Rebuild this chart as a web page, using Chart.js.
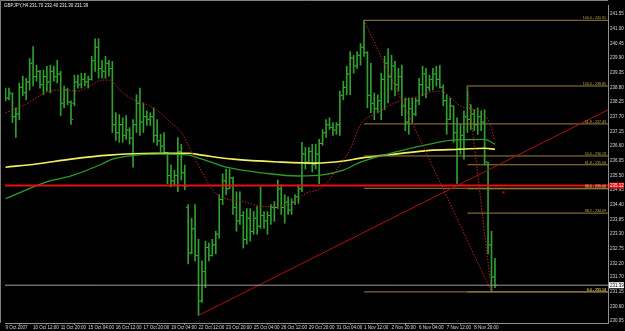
<!DOCTYPE html>
<html>
<head>
<meta charset="utf-8">
<script src="https://cdn.jsdelivr.net/npm/chart.js@4.4.0/dist/chart.umd.min.js"></script>
<style>
  html, body { margin: 0; padding: 0; background: #000; }
  canvas { display: block; }
</style>
</head>
<body>
<canvas id="chart" width="625" height="331"></canvas>
<script>
// GBPJPY H4
const symbolTitle = 'GBPJPY,H4 231.70 232.40 231.30 231.39';

const timeTickIdx = [0, 8, 16, 24, 32, 40, 48, 56, 64, 72, 80, 88, 96, 104, 112, 120, 128, 136];
const timeLabels = ['9 Oct 2007', '10 Oct 12:00', '11 Oct 20:00', '15 Oct 04:00', '16 Oct 12:00', '17 Oct 20:00',
  '19 Oct 04:00', '22 Oct 12:00', '23 Oct 20:00', '25 Oct 04:00', '26 Oct 12:00', '29 Oct 20:00',
  '31 Oct 04:00', '1 Nov 12:00', '2 Nov 20:00', '6 Nov 04:00', '7 Nov 12:00', '8 Nov 20:00'];

const priceTicks = [241.55, 241.00, 240.45, 239.90, 239.35, 238.80, 238.25, 237.70, 237.15, 236.60, 236.05,
  235.50, 234.95, 234.40, 233.85, 233.30, 232.75, 232.20, 231.70, 231.15, 230.60, 230.05];

const highs = [
  238.77, 238.77, 238.59, 238.03, 238.96, 239.22, 239.14, 239.88, 240.33, 239.63,
  239.44, 239.44, 239.59, 239.63, 239.59, 239.81, 239.40, 238.85, 238.77, 238.29,
  239.26, 239.26, 239.33, 239.33, 239.22, 239.96, 240.62, 240.62, 239.81, 239.96,
  239.81, 239.77, 237.85, 237.78, 237.66, 237.74, 237.29, 237.59, 238.52, 238.77,
  238.22, 237.92, 237.85, 238.03, 237.59, 237.04, 237.11, 236.37, 235.89, 235.70,
  236.92, 236.67, 235.89, 234.41, 233.89, 234.41, 233.11, 232.30, 233.04, 232.97,
  233.11, 233.41, 234.78, 235.56, 235.74, 235.74, 235.44, 234.89, 234.89, 234.15,
  234.26, 234.26, 234.15, 234.33, 235.07, 234.15, 234.15, 234.41, 234.52, 235.33,
  235.15, 234.78, 234.70, 234.63, 234.78, 235.15, 236.74, 236.55, 236.55, 236.67,
  236.67, 236.85, 237.22, 237.59, 237.66, 237.48, 237.48, 238.66, 239.03, 239.59,
  240.14, 240.00, 240.14, 240.44, 241.31, 240.14, 239.70, 238.59, 238.52, 239.33,
  239.96, 240.25, 240.00, 239.77, 239.51, 239.63, 238.40, 238.40, 238.40, 238.40,
  239.14, 239.59, 239.51, 239.26, 239.51, 239.59, 239.63, 238.89, 238.52, 238.40,
  238.11, 237.66, 237.41, 237.92, 238.85, 238.15, 237.96, 238.03, 237.92, 237.96,
  236.00, 233.41, 232.40];

const lows = [
  238.29, 238.33, 237.48, 236.92, 237.59, 238.48, 238.33, 238.70, 238.85, 239.03,
  238.77, 238.52, 238.66, 238.59, 239.03, 238.96, 237.74, 238.03, 238.15, 237.41,
  238.11, 238.77, 238.77, 238.85, 238.77, 239.07, 239.40, 239.14, 239.14, 239.14,
  239.22, 237.11, 236.81, 236.74, 236.74, 236.85, 236.67, 235.81, 237.11, 237.00,
  237.11, 237.37, 237.37, 236.74, 236.63, 236.37, 236.30, 235.19, 235.07, 235.15,
  234.89, 235.33, 234.96, 232.19, 232.56, 232.30, 230.26, 230.75, 231.30, 232.30,
  232.48, 232.56, 233.15, 234.41, 234.78, 235.00, 234.04, 233.41, 233.67, 232.78,
  232.93, 233.04, 233.30, 233.30, 233.52, 233.52, 233.30, 233.67, 233.78, 234.26,
  234.04, 233.71, 234.04, 234.04, 234.41, 234.45, 234.89, 235.74, 235.93, 235.63,
  235.74, 235.19, 236.63, 236.92, 237.22, 237.00, 237.04, 237.00, 238.33, 238.52,
  238.52, 239.33, 239.51, 239.63, 239.96, 238.03, 237.85, 237.59, 237.85, 237.59,
  237.96, 238.22, 238.70, 238.48, 238.66, 237.74, 237.18, 237.04, 237.48, 237.74,
  238.15, 238.48, 238.40, 238.66, 238.70, 238.85, 238.77, 238.11, 237.04, 237.59,
  236.74, 235.19, 236.30, 236.11, 237.11, 237.22, 237.18, 237.04, 237.18, 235.89,
  232.56, 231.14, 231.30];

const opens = [
  238.70, 238.40, 238.55, 237.70, 237.80, 238.80, 238.60, 239.00, 239.70, 239.20,
  239.40, 238.90, 239.20, 239.00, 239.40, 239.20, 239.30, 238.20, 238.70, 238.25,
  238.20, 239.00, 238.90, 239.10, 239.00, 239.10, 239.80, 240.30, 239.50, 239.40,
  239.70, 239.50, 237.40, 237.10, 237.40, 237.00, 237.20, 236.90, 237.40, 238.20,
  237.50, 237.70, 237.60, 237.70, 237.00, 236.80, 236.60, 236.35, 235.50, 235.30,
  235.50, 236.40, 235.60, 234.30, 232.60, 233.50, 232.50, 230.80, 231.90, 232.80,
  232.50, 232.90, 233.30, 234.60, 235.30, 235.00, 235.40, 234.30, 233.80, 234.00,
  233.10, 233.90, 233.40, 233.90, 233.60, 234.00, 233.80, 234.00, 234.30, 234.30,
  235.00, 234.30, 234.50, 234.20, 234.50, 234.70, 235.00, 236.30, 236.00, 236.40,
  235.90, 236.30, 236.70, 237.10, 237.40, 237.30, 237.20, 237.40, 238.50, 238.80,
  239.30, 239.90, 239.60, 240.00, 240.30, 240.10, 238.50, 238.20, 238.00, 238.30,
  239.10, 239.70, 239.20, 239.60, 238.90, 239.20, 238.10, 237.50, 238.00, 237.80,
  238.30, 238.90, 239.30, 238.80, 239.10, 239.30, 239.10, 238.80, 238.30, 237.60,
  238.10, 237.10, 236.50, 237.00, 237.70, 237.60, 237.80, 237.40, 237.70, 237.50,
  236.00, 232.90, 231.70];

const closes = [
  238.40, 238.60, 237.70, 237.80, 238.80, 238.60, 239.00, 239.70, 239.20, 239.40,
  238.90, 239.20, 239.00, 239.40, 239.20, 239.30, 238.20, 238.70, 238.25, 237.60,
  239.00, 238.90, 239.10, 239.00, 239.10, 239.80, 240.30, 239.50, 239.40, 239.70,
  239.50, 237.40, 237.10, 237.40, 237.00, 237.20, 236.90, 237.40, 238.20, 237.50,
  237.70, 237.60, 237.70, 237.00, 236.80, 236.60, 236.35, 235.50, 235.30, 235.50,
  236.40, 235.60, 235.10, 232.60, 233.50, 232.50, 230.80, 231.90, 232.80, 232.50,
  232.90, 233.30, 234.60, 235.30, 235.00, 235.40, 234.30, 233.80, 234.00, 233.10,
  233.90, 233.40, 233.90, 233.60, 234.00, 233.80, 234.00, 234.30, 234.30, 235.00,
  234.30, 234.50, 234.20, 234.50, 234.70, 235.00, 236.30, 236.00, 236.40, 235.90,
  236.30, 236.70, 237.10, 237.40, 237.30, 237.20, 237.40, 238.50, 238.80, 239.30,
  239.90, 239.60, 240.00, 240.30, 240.10, 238.50, 238.20, 238.00, 238.30, 239.10,
  239.70, 239.20, 239.60, 238.90, 239.20, 238.10, 237.50, 238.00, 237.80, 238.30,
  238.90, 239.30, 238.80, 239.10, 239.30, 239.10, 238.80, 238.30, 237.60, 238.10,
  237.10, 236.50, 237.00, 237.70, 237.60, 237.80, 237.40, 237.70, 237.50, 236.00,
  232.90, 231.70, 231.39];

// moving averages, sampled along the curves
const maYellowX = [0, 9, 19, 30, 43, 53, 57, 66, 80, 90, 98, 103, 113, 123, 132, 139, 142];
const maYellowY = [235.81, 235.93, 236.11, 236.26, 236.33, 236.33, 236.26, 236.11, 236.00, 235.96, 236.04, 236.15, 236.30, 236.44, 236.48, 236.52, 236.48];
const maGreenX = [0, 12, 19, 28, 31, 38, 46, 53, 57, 64, 75, 85, 92, 98, 103, 113, 123, 129, 139, 142];
const maGreenY = [234.63, 235.26, 235.48, 235.93, 236.11, 236.26, 236.30, 236.26, 236.11, 235.81, 235.59, 235.48, 235.52, 235.70, 236.00, 236.37, 236.67, 236.81, 236.85, 236.67];
const maRedX = [0, 5, 13, 17, 21, 25, 28, 30, 34, 38, 43, 48, 51, 55, 57, 61, 69, 75, 83, 87, 92, 97, 100, 103, 108, 113, 118, 126, 132, 140, 142];
const maRedY = [237.85, 238.11, 238.66, 238.70, 238.66, 238.89, 239.07, 239.07, 238.59, 238.29, 238.03, 237.48, 237.11, 236.11, 235.63, 234.82, 234.52, 234.33, 234.45, 234.82, 235.07, 235.89, 236.48, 237.41, 237.85, 238.22, 238.40, 238.66, 238.11, 237.59, 236.81];

// fibonacci retracements
const fibLevels = ['100.0', '61.8', '50.0', '38.2', '0.0'];
const fibAPrices = [241.31, 237.43, 236.23, 235.02, 231.14];
const fibBPrices = [238.85, 235.90, 235.00, 234.09, 231.14];
const fibAStart = 104, fibBStart = 134, fibEnd = 141;

// trendline and horizontal lines
const trendX = [56, 175];
const trendY = [230.26, 237.97];
const redLevel = 235.12;
const bidLevel = 231.39;
const markX = 144.5, markY = 234.87;

const X_MIN = -0.15, X_MAX = 174.8;
const FONT = '"Liberation Sans", Arial, sans-serif';

const fibLine = '#9a8040';
const fibText = '#c8a850';
const dotRed = '#c02222';

const datasets = [];

function hline(x0, x1, v, color, width, dash, order) {
  datasets.push({
    type: 'line', data: [{x: x0, y: v}, {x: x1, y: v}],
    borderColor: color, borderWidth: width, borderDash: dash || [],
    pointRadius: 0, order: order
  });
}

// red horizontal line + bid line
hline(X_MIN, X_MAX, redLevel, '#e81010', 2, null, 1);
hline(X_MIN, X_MAX, bidLevel, '#9a9a9a', 1, null, 2);

// fib level lines
fibAPrices.forEach(p => hline(fibAStart, X_MAX, p, fibLine, 1, null, 3));
fibBPrices.forEach(p => hline(fibBStart, X_MAX, p, fibLine, 1, null, 3));

// fib diagonals
datasets.push({
  type: 'line', data: [{x: fibAStart, y: fibAPrices[0]}, {x: fibEnd, y: fibAPrices[4]}],
  borderColor: dotRed, borderWidth: 1, borderDash: [1.5, 1.5], pointRadius: 0, order: 2
});
datasets.push({
  type: 'line', data: [{x: fibBStart, y: fibBPrices[0]}, {x: fibEnd, y: fibBPrices[4]}],
  borderColor: dotRed, borderWidth: 1, borderDash: [1.5, 1.5], pointRadius: 0, order: 2
});

// trendline
datasets.push({
  type: 'line', data: trendX.map((x, i) => ({x: x, y: trendY[i]})),
  borderColor: '#b01010', borderWidth: 1, pointRadius: 0, order: 2
});

// moving averages
datasets.push({
  type: 'line', data: maRedX.map((x, i) => ({x: x, y: maRedY[i]})),
  borderColor: dotRed, borderWidth: 1, borderDash: [1.5, 1.5], pointRadius: 0,
  cubicInterpolationMode: 'monotone', order: 4
});
datasets.push({
  type: 'line', data: maGreenX.map((x, i) => ({x: x, y: maGreenY[i]})),
  borderColor: '#2c9c2c', borderWidth: 1.3, pointRadius: 0,
  cubicInterpolationMode: 'monotone', order: 4
});
datasets.push({
  type: 'line', data: maYellowX.map((x, i) => ({x: x, y: maYellowY[i]})),
  borderColor: '#f2f060', borderWidth: 1.6, pointRadius: 0,
  cubicInterpolationMode: 'monotone', order: 4
});

// small red marker
datasets.push({
  type: 'scatter', data: [{x: markX, y: markY}],
  pointStyle: 'rect', pointRadius: 1.3, backgroundColor: '#e01010', borderWidth: 0, order: 1
});

// OHLC bars: high-low ranges + open/close ticks
datasets.push({
  type: 'bar', data: highs.map((h, i) => ({x: i, y: [lows[i], h]})),
  backgroundColor: '#2fa02f', borderWidth: 0, barThickness: 1, grouped: false, order: 10
});
datasets.push({
  type: 'scatter', data: opens.map((o, i) => ({x: i - 0.4, y: o})),
  pointStyle: 'line', pointRadius: 0.7, borderColor: '#3cb43c', borderWidth: 1, order: 9
});
datasets.push({
  type: 'scatter', data: closes.map((c, i) => ({x: i + 0.4, y: c})),
  pointStyle: 'line', pointRadius: 0.7, borderColor: '#3cb43c', borderWidth: 1, order: 9
});

const overlay = {
  id: 'overlay',
  afterDatasetsDraw(chart) {
    const {ctx, chartArea: a, scales: {y}} = chart;
    ctx.save();
    ctx.font = '3.6px ' + FONT;
    ctx.fillStyle = fibText;
    ctx.textAlign = 'right';
    ctx.textBaseline = 'bottom';
    fibLevels.forEach((lv, k) => {
      ctx.fillText(lv + ' - ' + fibAPrices[k].toFixed(2), a.right - 2, y.getPixelForValue(fibAPrices[k]) - 0.3);
      ctx.fillText(lv + ' - ' + fibBPrices[k].toFixed(2), a.right - 2, y.getPixelForValue(fibBPrices[k]) - 0.3);
    });
    ctx.restore();
  },
  afterDraw(chart) {
    const {ctx, chartArea: a, scales: {y}} = chart;
    ctx.save();
    // frame
    ctx.strokeStyle = '#808080';
    ctx.lineWidth = 1;
    ctx.beginPath();
    ctx.moveTo(0.5, a.bottom);
    ctx.lineTo(0.5, 0.5);
    ctx.lineTo(a.right, 0.5);
    ctx.stroke();
    // price boxes on the axis
    ctx.font = '4.5px ' + FONT;
    ctx.textAlign = 'left';
    ctx.textBaseline = 'middle';
    const box = (v, bg, fg) => {
      const py = y.getPixelForValue(v);
      ctx.fillStyle = bg;
      ctx.fillRect(a.right + 1, py - 3, 15, 6);
      ctx.fillStyle = fg;
      ctx.fillText(v.toFixed(2), a.right + 2, py + 0.3);
    };
    box(redLevel, '#e01010', '#ffffff');
    box(bidLevel, '#ffffff', '#000000');
    // title
    ctx.fillStyle = '#e8e8e8';
    ctx.fillText(symbolTitle, 4, 5.5);
    ctx.restore();
  }
};

new Chart(document.getElementById('chart'), {
  data: {datasets: datasets},
  options: {
    responsive: false,
    animation: false,
    devicePixelRatio: 1,
    layout: {padding: {left: 1, top: 1, right: 0, bottom: 0}},
    plugins: {legend: {display: false}, tooltip: {enabled: false}},
    scales: {
      x: {
        type: 'linear', min: X_MIN, max: X_MAX, offset: false,
        afterBuildTicks: s => { s.ticks = timeTickIdx.map(v => ({value: v})); },
        afterFit: s => { s.height = 8; },
        ticks: {
          autoSkip: false, maxRotation: 0, minRotation: 0, align: 'start', padding: 0,
          color: '#d8d8d8', font: {family: FONT, size: 4.5},
          callback: (v, i) => timeLabels[i]
        },
        grid: {drawOnChartArea: false, drawTicks: true, tickLength: 2, color: '#808080'},
        border: {color: '#909090'}
      },
      y: {
        type: 'linear', position: 'right', min: 229.975, max: 241.883,
        afterBuildTicks: s => { s.ticks = priceTicks.map(v => ({value: v})); },
        afterFit: s => { s.width = 17; },
        ticks: {
          padding: 1, color: '#d8d8d8', font: {family: FONT, size: 4.5},
          callback: v => v.toFixed(2)
        },
        grid: {drawOnChartArea: false, drawTicks: true, tickLength: 1, color: '#808080'},
        border: {color: '#909090'}
      }
    }
  },
  plugins: [overlay]
});
</script>
</body>
</html>
